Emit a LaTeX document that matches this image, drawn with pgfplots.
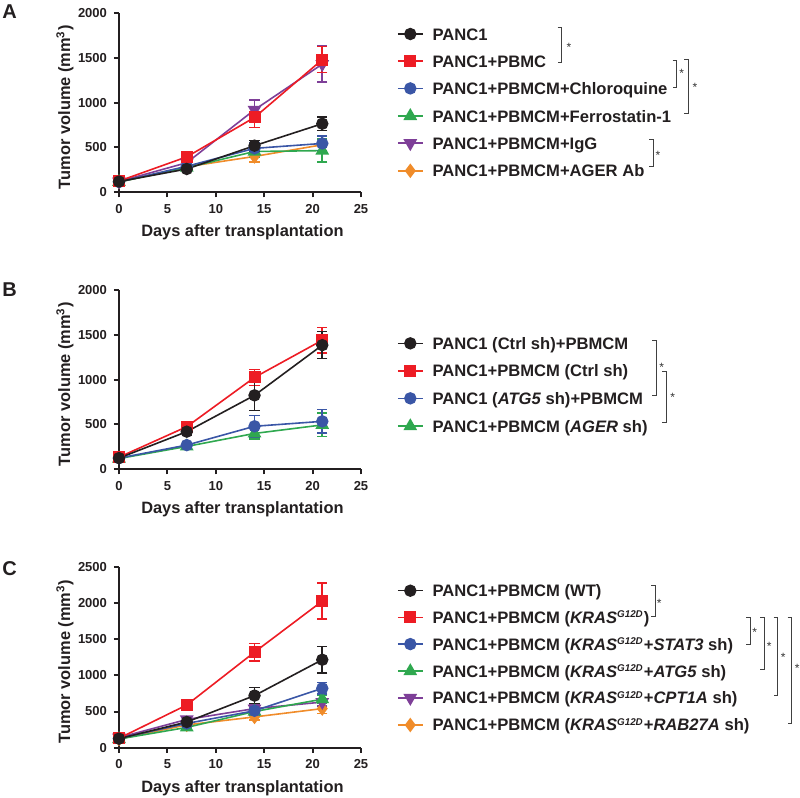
\documentclass[border=0pt]{standalone}
\usepackage{fontspec}
\setmainfont{Liberation Sans}
\usepackage{pgfplots}
\pgfplotsset{compat=1.18}
\usepackage{pgfplotstable}
\definecolor{cblack}{HTML}{231F20}
\definecolor{cred}{HTML}{ED1C24}
\definecolor{cblue}{HTML}{3A56A6}
\definecolor{cgreen}{HTML}{2FA84F}
\definecolor{cpurple}{HTML}{7E3F98}
\definecolor{corange}{HTML}{F08C2A}
\newcommand{\kras}{\textit{KRAS}\textsuperscript{\fontsize{4.9}{5}\selectfont\itshape G12D}}

% Panel A
\pgfplotstableread{
x y e
0 120 15
7 260 25
14 520 60
21 765 75
}\Ablack
\pgfplotstableread{
x y e
0 125 15
7 395 30
14 835 110
21 1480 145
}\Ared
\pgfplotstableread{
x y e
0 115 15
7 290 25
14 490 60
21 545 80
}\Ablue
\pgfplotstableread{
x y e
0 115 15
7 275 25
14 455 60
21 465 130
}\Agreen
\pgfplotstableread{
x y e
0 120 15
7 330 30
14 920 110
21 1430 200
}\Apurple
\pgfplotstableread{
x y e
0 115 15
7 285 25
14 400 60
21 530 70
}\Aorange
% Panel B
\pgfplotstableread{
x y e
0 125 20
7 420 40
14 825 170
21 1385 150
}\Bblack
\pgfplotstableread{
x y e
0 135 20
7 475 40
14 1025 90
21 1440 140
}\Bred
\pgfplotstableread{
x y e
0 125 15
7 270 30
14 480 120
21 535 130
}\Bblue
\pgfplotstableread{
x y e
0 120 15
7 255 25
14 400 60
21 495 130
}\Bgreen
% Panel C
\pgfplotstableread{
x y e
0 125 20
7 355 40
14 720 110
21 1215 185
}\Cblack
\pgfplotstableread{
x y e
0 130 20
7 590 50
14 1320 120
21 2025 250
}\Cred
\pgfplotstableread{
x y e
0 130 15
7 335 30
14 510 60
21 820 80
}\Cblue
\pgfplotstableread{
x y e
0 120 15
7 280 30
14 500 50
21 670 60
}\Cgreen
\pgfplotstableread{
x y e
0 140 15
7 390 30
14 540 50
21 630 50
}\Cpurple
\pgfplotstableread{
x y e
0 120 15
7 315 30
14 425 40
21 540 70
}\Corange

\pgfplotsset{
  panel/.style={
    scale only axis, width=121pt, anchor=south west, clip=false,
    xmin=0, xmax=25, ymin=0,
    xtick={0,5,10,15,20,25},
    axis lines*=left,
    axis line style={line width=1pt, cblack},
    every tick/.style={line width=1pt, cblack},
    tick align=outside, major tick length=2.5pt,
    /pgf/number format/assume math mode=true,
    /pgf/number format/1000 sep={},
    tick label style={font=\bfseries\fontsize{6.5}{7}\selectfont, text=cblack},
    label style={font=\bfseries\fontsize{8.2}{9}\selectfont, text=cblack},
    xlabel={Days after transplantation},
    ylabel={Tumor volume (mm\textsuperscript{3})},
    xlabel style={at={(axis description cs:0.51,-0.225)}, anchor=center},
    ylabel style={at={(axis description cs:-0.2231,0.475)}, anchor=center},
    legend cell align=left,
    reverse legend,
    legend image code/.code={\draw[mark repeat=2,mark phase=2,#1] plot coordinates {(0pt,0pt) (6.25pt,0pt) (12.5pt,0pt)};},
  },
  myleg/.style 2 args={legend style={at={(axis description cs:1.1488,#1)}, anchor=north west,
    draw=none, fill=none, inner sep=0pt, outer sep=0pt, row sep=#2,
    font=\bfseries\fontsize{8.3}{9}\selectfont, text=cblack,
    nodes={inner xsep=4.5pt, inner ysep=0pt, text height=6pt, text depth=0pt}}},
  ser/.style n args={4}{color=#1, line width=0.8pt, mark=#2, mark size=#3,
    mark options={solid, fill=#1, #4},
    /pgfplots/error bars/y dir=both, /pgfplots/error bars/y explicit,
    /pgfplots/error bars/error bar style={line width=0.8pt, #1},
    /pgfplots/error bars/error mark options={line width=0.8pt, mark size=2.6pt, #1, rotate=90}},
}

\begin{document}
\begin{tikzpicture}
\path[use as bounding box] (0,0) rectangle (400pt,-399pt);

% ---------- Panel A ----------
\begin{axis}[panel, at={(59.5pt,-96.15pt)}, height=89.65pt, ymax=2000,
  ytick={0,500,1000,1500,2000}, myleg={0.9163}{7.6pt}]
\addplot[ser={corange}{diamond*}{3pt}{}] table[x=x,y=y,y error=e]{\Aorange};
\addlegendentry{PANC1+PBMCM+AGER Ab}
\addplot[ser={cpurple}{triangle*}{3.2pt}{rotate=180}] table[x=x,y=y,y error=e]{\Apurple};
\addlegendentry{PANC1+PBMCM+IgG}
\addplot[ser={cgreen}{triangle*}{3.2pt}{}] table[x=x,y=y,y error=e]{\Agreen};
\addlegendentry{PANC1+PBMCM+Ferrostatin-1}
\addplot[ser={cblue}{*}{2.7pt}{}] table[x=x,y=y,y error=e]{\Ablue};
\addlegendentry{PANC1+PBMCM+Chloroquine}
\addplot[ser={cred}{square*}{2.6pt}{}] table[x=x,y=y,y error=e]{\Ared};
\addlegendentry{PANC1+PBMC}
\addplot[ser={cblack}{*}{2.7pt}{}] table[x=x,y=y,y error=e]{\Ablack};
\addlegendentry{PANC1}
\end{axis}

% ---------- Panel B ----------
\begin{axis}[panel, at={(59.5pt,-234.65pt)}, height=89.65pt, ymax=2000,
  ytick={0,500,1000,1500,2000}, myleg={0.736}{7.75pt}]
\addplot[ser={cgreen}{triangle*}{3.2pt}{}] table[x=x,y=y,y error=e]{\Bgreen};
\addlegendentry{PANC1+PBMCM (\textit{AGER} sh)}
\addplot[ser={cblue}{*}{2.7pt}{}] table[x=x,y=y,y error=e]{\Bblue};
\addlegendentry{PANC1 (\textit{ATG5} sh)+PBMCM}
\addplot[ser={cred}{square*}{2.6pt}{}] table[x=x,y=y,y error=e]{\Bred};
\addlegendentry{PANC1+PBMCM (Ctrl sh)}
\addplot[ser={cblack}{*}{2.7pt}{}] table[x=x,y=y,y error=e]{\Bblack};
\addlegendentry{PANC1 (Ctrl sh)+PBMCM}
\end{axis}

% ---------- Panel C ----------
\begin{axis}[panel, at={(59.5pt,-373.85pt)}, height=90.5pt, ymax=2500,
  ytick={0,500,1000,1500,2000,2500}, myleg={0.9006}{7.35pt}]
\addplot[ser={corange}{diamond*}{3pt}{}] table[x=x,y=y,y error=e]{\Corange};
\addlegendentry{PANC1+PBMCM (\kras+\textit{RAB27A} sh)}
\addplot[ser={cpurple}{triangle*}{3.2pt}{rotate=180}] table[x=x,y=y,y error=e]{\Cpurple};
\addlegendentry{PANC1+PBMCM (\kras+\textit{CPT1A} sh)}
\addplot[ser={cgreen}{triangle*}{3.2pt}{}] table[x=x,y=y,y error=e]{\Cgreen};
\addlegendentry{PANC1+PBMCM (\kras+\textit{ATG5} sh)}
\addplot[ser={cblue}{*}{2.7pt}{}] table[x=x,y=y,y error=e]{\Cblue};
\addlegendentry{PANC1+PBMCM (\kras+\textit{STAT3} sh)}
\addplot[ser={cred}{square*}{2.6pt}{}] table[x=x,y=y,y error=e]{\Cred};
\addlegendentry{PANC1+PBMCM (\kras)}
\addplot[ser={cblack}{*}{2.7pt}{}] table[x=x,y=y,y error=e]{\Cblack};
\addlegendentry{PANC1+PBMCM (WT)}
\end{axis}

% panel letters
\node[anchor=north west, inner sep=0pt, font=\bfseries\fontsize{10}{12}\selectfont, text=cblack] at (1pt,-2pt) {A};
\node[anchor=north west, inner sep=0pt, font=\bfseries\fontsize{10}{12}\selectfont, text=cblack] at (1pt,-141pt) {B};
\node[anchor=north west, inner sep=0pt, font=\bfseries\fontsize{10}{12}\selectfont, text=cblack] at (1pt,-280.5pt) {C};

% significance brackets
\begin{scope}[line width=0.45pt, draw=black!75, every node/.style={inner sep=0pt, font=\fontsize{6}{6}\selectfont, text=black!80}]
\draw (278.85pt,-13.85pt) -| (280.85pt,-31.15pt) -- (278.85pt,-31.15pt);
\node at (284.5pt,-23.5pt) {*};
\draw (336.35pt,-30pt) -| (338.35pt,-43.65pt) -- (336.35pt,-43.65pt);
\node at (340.85pt,-36.85pt) {*};
\draw (342.15pt,-29.5pt) -| (344.15pt,-56.65pt) -- (342.15pt,-56.65pt);
\node at (347.5pt,-43.5pt) {*};
\draw (324.65pt,-69.65pt) -| (326.65pt,-83.35pt) -- (324.65pt,-83.35pt);
\node at (329pt,-77.5pt) {*};

\draw (326pt,-170.35pt) -| (328pt,-197.5pt) -- (326pt,-197.5pt);
\node at (330.85pt,-183.5pt) {*};
\draw (331pt,-185.85pt) -| (333pt,-211.35pt) -- (331pt,-211.35pt);
\node at (336.35pt,-198.5pt) {*};

\draw (325.5pt,-292.85pt) -| (327.5pt,-308.35pt) -- (325.5pt,-308.35pt);
\node at (329.6pt,-301.85pt) {*};
\draw (373pt,-308.65pt) -| (375pt,-322pt) -- (373pt,-322pt);
\node at (377.4pt,-316pt) {*};
\draw (380pt,-308.65pt) -| (382pt,-334.5pt) -- (380pt,-334.5pt);
\node at (384.6pt,-323pt) {*};
\draw (386.85pt,-308.65pt) -| (388.85pt,-347.85pt) -- (386.85pt,-347.85pt);
\node at (391.6pt,-328.5pt) {*};
\draw (393.85pt,-308.65pt) -| (395.85pt,-361.65pt) -- (393.85pt,-361.65pt);
\node at (398.6pt,-334.35pt) {*};
\end{scope}
\end{tikzpicture}
\end{document}
